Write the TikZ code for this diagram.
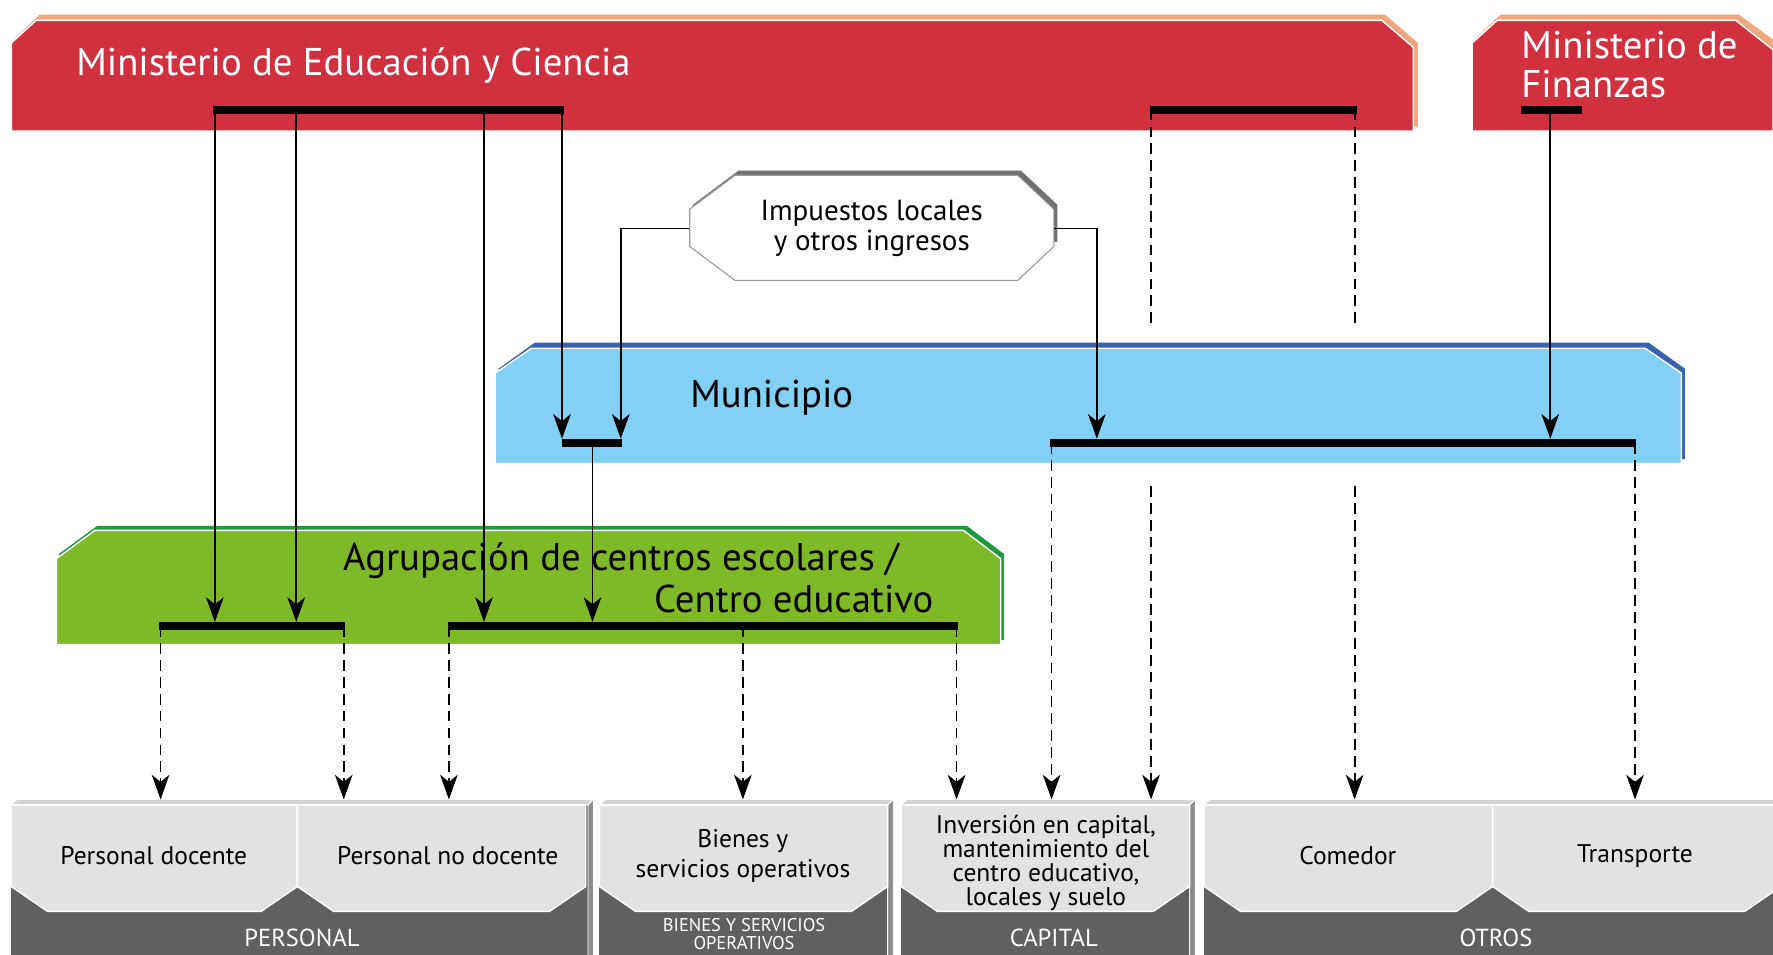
\documentclass[tikz,border=0pt]{standalone}
\usepackage{fontspec}
\setmainfont{PT Sans}
\usetikzlibrary{arrows.meta}
\definecolor{mred}{HTML}{D1313F}
\definecolor{morange}{HTML}{F2A67C}
\definecolor{mblue}{HTML}{82D0F5}
\definecolor{mblueedge}{HTML}{3A62B3}
\definecolor{mgreen}{HTML}{7EBA28}
\definecolor{mgreenedge}{HTML}{1E9A3D}
\definecolor{lgray}{HTML}{E2E2E2}
\definecolor{dgray}{HTML}{606060}
\definecolor{sgray}{HTML}{8C8C8C}
\definecolor{tgray}{HTML}{D4D4D4}
\definecolor{shgray}{HTML}{707070}
\tikzset{
  bar/.style={line width=4.5pt},
  conn/.style={line width=1pt,-{Stealth[length=14pt,width=10pt,inset=4pt]}},
  dconn/.style={line width=1pt,dash pattern=on 6pt off 3.6pt,-{Stealth[length=14pt,width=10pt,inset=4pt]}},
  dplain/.style={line width=1pt,dash pattern=on 6pt off 3.6pt},
  bigtxt/.style={font=\fontsize{22}{26}\selectfont},
  midtxt/.style={font=\fontsize{14.5}{17}\selectfont,align=center},
  lbltxt/.style={font=\fontsize{14}{15}\selectfont,text=white,align=center},
}
\newcommand\lbox[2]{%
  \fill[lgray,draw=white,line width=0.8pt] (#1,712) -- (#2,712) -- (#2,784) -- ({#2-32},806) -- ({#1+32},806) -- (#1,784) -- cycle;}
\newcommand\grp[2]{%
  \fill[dgray] (#1,712) rectangle (#2,850);
  \fill[tgray,draw=white,line width=0.5pt] (#1,712) -- ({#1+5},707) -- ({#2+5},707) -- (#2,712) -- cycle;
  \fill[sgray,draw=white,line width=0.5pt] (#2,712) -- ({#2+5},707) -- ({#2+5},850) -- (#2,850) -- cycle;}
\begin{document}
\begin{tikzpicture}[x=0.0226cm,y=-0.0226cm]
\useasboundingbox (0,0) rectangle (1568,844);
% ---- Ministerio de Educacion y Ciencia
\fill[morange] (13,112) -- (13,34) -- (35,13) -- (1225,13) -- (1254,38) -- (1254,112) -- cycle;
\fill[mred,draw=white,line width=0.8pt] (10,116) -- (10,38) -- (32,18) -- (1222,18) -- (1250,42) -- (1250,116) -- cycle;
\node[bigtxt,text=white,anchor=west] (mec) at (62,58) {Ministerio de Educación y Ciencia};
% ---- Ministerio de Finanzas
\fill[morange] (1305,112) -- (1305,34) -- (1327,13) -- (1538,13) -- (1572,38) -- (1572,112) -- cycle;
\fill[mred,draw=white,line width=0.8pt] (1302,116) -- (1302,38) -- (1324,18) -- (1535,18) -- (1568,44) -- (1568,116) -- cycle;
\node[font=\fontsize{22}{21.8}\selectfont,text=white,anchor=west,align=left] (mdf) at (1340,57) {Ministerio de\\Finanzas};
% ---- Impuestos
\fill[shgray] (613,181) -- (653,151) -- (903,151) -- (935,181) -- (935,214) -- (613,214) -- cycle;
\fill[white,draw=black!40,line width=0.6pt] (610,185) -- (650,155) -- (900,155) -- (932,185) -- (932,218) -- (900,248) -- (650,248) -- (610,218) -- cycle;
\node[font=\fontsize{16.5}{17.5}\selectfont,align=center,minimum width=7.277cm,minimum height=2.1cm,inner sep=0pt] (imp) at (771,202) {Impuestos locales\\y otros ingresos};
% ---- Municipio
\fill[mblueedge] (441,326) -- (473,303) -- (1458,303) -- (1490,326) -- (1490,406) -- (441,406) -- cycle;
\fill[mblue,draw=white,line width=0.8pt] (438,410) -- (438,330) -- (470,308) -- (1455,308) -- (1487,330) -- (1487,410) -- cycle;
\node[bigtxt,anchor=west] (mun) at (605,352) {Municipio};
% ---- Agrupacion
\fill[mgreenedge] (52,490) -- (86,465) -- (855,465) -- (888,490) -- (888,566) -- (52,566) -- cycle;
\fill[mgreen,draw=white,line width=0.8pt] (50,570) -- (50,494) -- (84,469) -- (852,469) -- (885,494) -- (885,570) -- cycle;
\node[bigtxt,anchor=west] (agr1) at (298,496) {Agrupación de centros escolares /};
\node[bigtxt,anchor=east] (agr2) at (831,530) {Centro educativo};
% ---- bottom groups
\grp{10}{520}
\grp{530}{785}
\grp{797}{1052}
\grp{1065}{1600}
\lbox{10}{263}
\lbox{263}{518}
\lbox{530}{785}
\lbox{797}{1052}
\lbox{1065}{1320}
\lbox{1320}{1575}
\node[midtxt] (pd) at (136,757) {Personal docente};
\node[midtxt] (pnd) at (396,757) {Personal no docente};
\node[midtxt] (bso) at (657,757) {Bienes y\\servicios operativos};
\node[midtxt,font=\fontsize{14.5}{13.7}\selectfont] (cap) at (925,763) {Inversión en capital,\\mantenimiento del\\centro educativo,\\locales y suelo};
\node[midtxt] (com) at (1192,757) {Comedor};
\node[midtxt] (tra) at (1446,757) {Transporte};
\node[lbltxt] (lp) at (267,829) {PERSONAL};
\node[lbltxt,font=\fontsize{10.5}{10.5}\selectfont] (lb) at (658,826) {BIENES Y SERVICIOS\\OPERATIVOS};
\node[lbltxt] (lc) at (932,829) {CAPITAL};
\node[lbltxt] (lo) at (1323,829) {OTROS};
% ---- coordinates on bars
\coordinate (m1) at (190,97); \coordinate (m2) at (262,97); \coordinate (m3) at (428,97); \coordinate (m4) at (497,97);
\coordinate (m5) at (1018,97); \coordinate (m6) at (1198,97);
\coordinate (f1) at (1371,97);
\coordinate (u1) at (497,388); \coordinate (u2) at (549,388); \coordinate (u3) at (524,392);
\coordinate (u4) at (970,388); \coordinate (u5) at (1371,388);
\coordinate (u6) at (930,392); \coordinate (u7) at (1446,392);
\coordinate (a1) at (190,550); \coordinate (a2) at (262,550); \coordinate (a3) at (428,550); \coordinate (a4) at (524,550);
\coordinate (b1) at (142,554); \coordinate (b2) at (304,554); \coordinate (b3) at (397,554); \coordinate (b4) at (657,554); \coordinate (b5) at (846,554);
\coordinate (g5a) at (1018,290); \coordinate (g6a) at (1198,290);
\coordinate (g5b) at (1018,430); \coordinate (g6b) at (1198,430);
\foreach \n/\x in {t1/142,t2/304,t3/397,t4/657,t5/846,t6/930,t7/1018,t8/1198,t9/1446}{\coordinate (\n) at (\x,707);}
% ---- connectors
\draw[conn] (m1) -- (a1);
\draw[conn] (m2) -- (a2);
\draw[conn] (m3) -- (a3);
\draw[conn] (m4) -- (u1);
\draw[conn] (imp.west) -| (u2);
\draw[conn] (imp.east) -| (u4);
\draw[conn] (f1) -- (u5);
\draw[conn] (u3) -- (a4);
\draw[dplain] (m5) -- (g5a);
\draw[dplain] (m6) -- (g6a);
\draw[dconn] (g5b) -- (t7);
\draw[dconn] (g6b) -- (t8);
\draw[dconn] (u6) -- (t6);
\draw[dconn] (u7) -- (t9);
\draw[dconn] (b1) -- (t1);
\draw[dconn] (b2) -- (t2);
\draw[dconn] (b3) -- (t3);
\draw[dconn] (b4) -- (t4);
\draw[dconn] (b5) -- (t5);
% ---- bars
\draw[bar] (188,97) -- (499,97);
\draw[bar] (1017,97) -- (1200,97);
\draw[bar] (1345,97) -- (1399,97);
\draw[bar] (497,392) -- (550,392);
\draw[bar] (929,392) -- (1447,392);
\draw[bar] (141,554) -- (305,554);
\draw[bar] (396,554) -- (847,554);
\end{tikzpicture}
\end{document}
